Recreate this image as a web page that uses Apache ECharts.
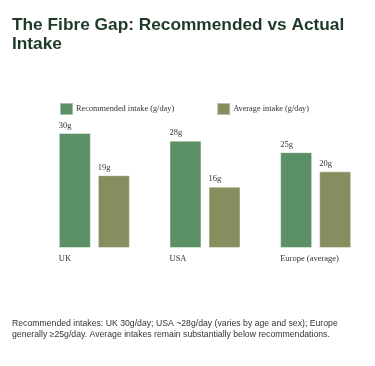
<!DOCTYPE html>
<html><head><meta charset="utf-8">
<script src="https://cdn.jsdelivr.net/npm/echarts@6/dist/echarts.min.js"></script>
<style>html,body{margin:0;padding:0;background:#fff}#c{width:375px;height:366px}</style>
</head><body><div id="c"></div>
<script>
const categories = ['UK', 'USA', 'Europe (average)'];
const recommended = [30, 28, 25];
const average = [19, 16, 20];
const seriesNames = ['Recommended intake (g/day)', 'Average intake (g/day)'];
const titleLines = ['The Fibre Gap: Recommended vs Actual', 'Intake'];
const noteLines = [
  'Recommended intakes: UK 30g/day; USA ~28g/day (varies by age and sex); Europe',
  'generally \u226525g/day. Average intakes remain substantially below recommendations.'
];

const serif = '"Liberation Serif", "Times New Roman", serif';
const sans = '"Liberation Sans", Arial, Helvetica, sans-serif';
const chart = echarts.init(document.getElementById('c'), null, {renderer: 'canvas'});
const valLabel = {
  show: true, position: [0, -3], verticalAlign: 'bottom', align: 'left',
  formatter: p => p.value + 'g', fontFamily: serif, fontSize: 8.5, color: '#333'
};
chart.setOption({
  animation: false,
  title: [{
    text: titleLines.join('\n'), left: 12, top: 16, padding: 0,
    textStyle: {fontFamily: sans, fontSize: 17.3, fontWeight: 'bold', color: '#1e3a27', lineHeight: 18.5}
  }],
  graphic: [{
    type: 'text', left: 12, top: 318,
    style: {
      text: noteLines.join('\n'),
      fontFamily: sans, fontSize: 8.7, lineHeight: 11, fill: '#333'
    }
  }],
  legend: {
    left: 54, top: 97, itemWidth: 13, itemHeight: 12, itemGap: 42,
    icon: 'rect',
    textStyle: {fontFamily: serif, fontSize: 8.3, color: '#333', padding: [0, 0, 0, -2]},
    data: seriesNames
  },
  grid: {left: 39, right: 4, top: 133, bottom: 118},
  xAxis: {
    type: 'category', data: categories,
    axisLine: {show: false}, axisTick: {show: false},
    axisLabel: {
      interval: 0, margin: 6, fontFamily: serif, fontSize: 8.5, color: '#333',
      formatter: v => '{a|' + v + '}',
      rich: {a: {width: 71, align: 'left', fontFamily: serif, fontSize: 8.5, color: '#333'}}
    }
  },
  yAxis: {type: 'value', min: 0, max: 30, show: false, splitLine: {show: false}},
  series: [{
    name: seriesNames[0], type: 'bar', data: recommended, barWidth: 32, barGap: '22%',
    itemStyle: {color: '#5b8f66', borderColor: 'rgba(255,255,255,0.45)', borderWidth: 1},
    label: valLabel
  }, {
    name: seriesNames[1], type: 'bar', data: average, barWidth: 32,
    itemStyle: {color: '#858e5e', borderColor: 'rgba(255,255,255,0.45)', borderWidth: 1},
    label: valLabel
  }]
});
</script></body></html>
